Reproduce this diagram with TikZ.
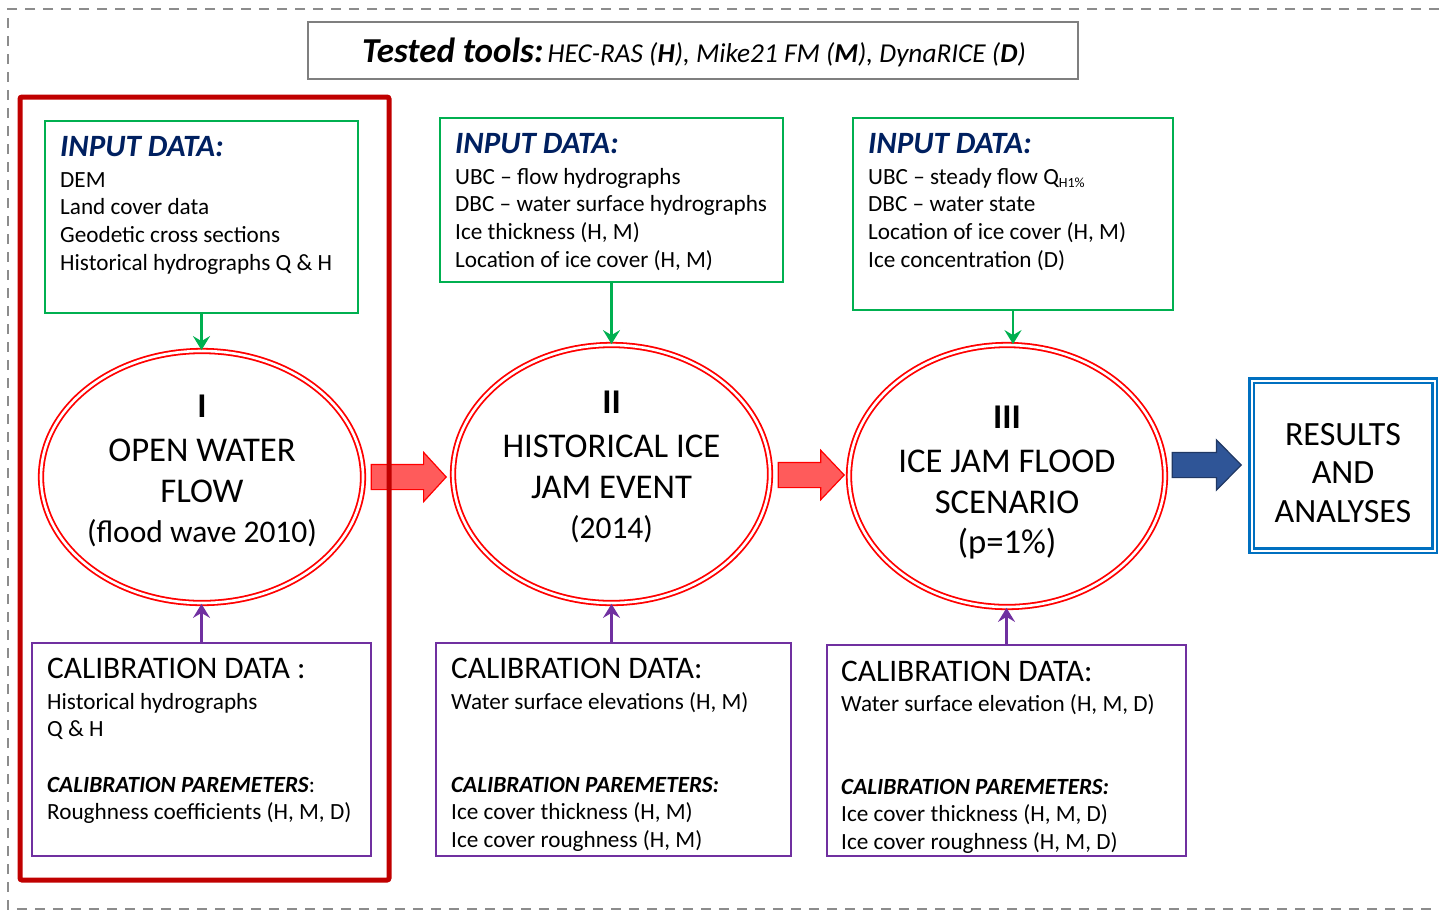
\documentclass[tikz,border=0pt]{standalone}
\usepackage{fontspec}
\setmainfont{Carlito}
\usetikzlibrary{arrows.meta,shapes.geometric,shapes.arrows}
\definecolor{cgreen}{HTML}{00B050}
\definecolor{cpurple}{HTML}{7030A0}
\definecolor{cnavy}{HTML}{002060}
\definecolor{cdarkred}{HTML}{C00000}
\definecolor{cred}{HTML}{FF0000}
\definecolor{carrowfill}{HTML}{FF5B5B}
\definecolor{cblue}{HTML}{0070C0}
\definecolor{cbluefill}{HTML}{2F5597}
\definecolor{cblueline}{HTML}{203864}
\definecolor{cgray}{HTML}{7F7F7F}
\definecolor{cdash}{HTML}{8C8C8C}
\begin{document}
\begin{tikzpicture}[x=1pt,y=-1pt,
  box/.style={rectangle, inner sep=0pt, line width=2pt},
  inbox/.style={box, draw=cgreen},
  calbox/.style={box, draw=cpurple},
  ell/.style={ellipse, draw=cred, line width=1.8pt, double=white, double distance=2.6pt, inner sep=0pt},
  bigarrow/.style={single arrow, inner sep=0pt, line width=1.2pt, anchor=tip},
  garrow/.style={draw=cgreen, line width=2.6pt, -{Stealth[length=14pt,width=17pt,inset=5pt]}},
  parrow/.style={draw=cpurple, line width=2.6pt, -{Stealth[length=14pt,width=17pt,inset=5pt]}},
  hdr/.style={anchor=base west, inner sep=0pt, text=cnavy, font=\fontsize{31}{31}\selectfont\bfseries\itshape},
  body/.style={anchor=base west, inner sep=0pt, align=left, font=\fontsize{23.2}{27.7}\selectfont},
  calhdr/.style={anchor=base west, inner sep=0pt, font=\fontsize{31.4}{31.4}\selectfont},
  etext/.style={anchor=base, inner sep=0pt, align=center, font=\fontsize{34.7}{40.5}\selectfont},
]
\useasboundingbox (0,0) rectangle (1439,911);
% outer dashed frame
\draw[cdash, line width=1.8pt, dash pattern=on 10pt off 8pt] (1439,9) -- (8,9) -- (8,909) -- (1439,909);

% tested tools
\node[draw=cgray, line width=2pt, minimum width=770pt, minimum height=57pt, inner sep=0pt] (tools) at (693,50.5) {};
\node[anchor=base, inner sep=0pt] (toolstxt) at (694,62) {{\fontsize{35}{35}\selectfont\bfseries\itshape Tested tools:}\hspace{4pt}{\fontsize{27.3}{27.3}\selectfont\itshape HEC-RAS (\textbf{H}), Mike21 FM (\textbf{M}), DynaRICE (\textbf{D})}};

% input boxes
\node[inbox, minimum width=313pt, minimum height=192pt] (in1) at (201.5,217) {};
\node[inbox, minimum width=343pt, minimum height=164pt] (in2) at (611.5,200) {};
\node[inbox, minimum width=320pt, minimum height=192pt] (in3) at (1013,214) {};
\node[hdr] (in1h) at (60,156) {INPUT DATA:};
\node[body] (in1b) at (60,270.1) {DEM\\Land cover data\\Geodetic cross sections\\Historical hydrographs Q \& H};
\node[hdr] (in2h) at (455,153) {INPUT DATA:};
\node[body] (in2b) at (455,267.1) {UBC -- flow hydrographs\\DBC -- water surface hydrographs\\Ice thickness (H, M)\\Location of ice cover (H, M)};
\node[hdr] (in3h) at (868,153) {INPUT DATA:};
\node[body] (in3b) at (868,267.1) {UBC -- steady flow Q\raisebox{-3.5pt}{\fontsize{14}{14}\selectfont H1\%}\\DBC -- water state\\Location of ice cover (H, M)\\Ice concentration (D)};

% ellipses
\node[ell, minimum width=322pt, minimum height=252pt] (e1) at (202,477) {};
\node[ell, minimum width=317pt, minimum height=258pt] (e2) at (611.5,474) {};
\node[ell, minimum width=316pt, minimum height=262pt] (e3) at (1007,476) {};
\node[etext] (e1t) at (202,542.5) {\textbf{I}\\[4pt]OPEN WATER\\FLOW\\{\fontsize{31.5}{31.5}\selectfont (flood wave 2010)}};
\node[etext] (e2t) at (611.5,538.5) {\textbf{II}\\[4pt]HISTORICAL ICE\\JAM EVENT\\{\fontsize{31.5}{31.5}\selectfont (2014)}};
\node[etext] (e3t) at (1007,553.5) {\textbf{III}\\[4pt]ICE JAM FLOOD\\SCENARIO\\(p=1\%)};

% results
\node[draw=cblue, line width=2.5pt, double=white, double distance=2pt, minimum width=183pt, minimum height=170pt, inner sep=0pt] (res) at (1343,465.5) {};
\node[anchor=base, inner sep=0pt, align=center, font=\fontsize{34}{38.5}\selectfont] (rest) at (1343,522) {RESULTS\\AND\\ANALYSES};

% calibration boxes
\node[calbox, minimum width=339pt, minimum height=213pt] (c1) at (201.5,749.5) {};
\node[calbox, minimum width=355pt, minimum height=213pt] (c2) at (613.5,749.5) {};
\node[calbox, minimum width=359pt, minimum height=211pt] (c3) at (1006.5,750.5) {};
\node[calhdr] (c1h) at (47,678) {CALIBRATION DATA :};
\node[body] (c1b) at (47,819.8) {Historical hydrographs\\Q \& H\\[27.7pt]\textbf{\textit{CALIBRATION PAREMETERS}}:\\Roughness coefficients (H, M, D)};
\node[calhdr] (c2h) at (451,678) {CALIBRATION DATA:};
\node[body] (c2b) at (451,847.5) {Water surface elevations (H, M)\\[55.4pt]\textbf{\textit{CALIBRATION PAREMETERS:}}\\Ice cover thickness (H, M)\\Ice cover roughness (H, M)};
\node[calhdr] (c3h) at (841,681) {CALIBRATION DATA:};
\node[body] (c3b) at (841,849.5) {Water surface elevation (H, M, D)\\[55.4pt]\textbf{\textit{CALIBRATION PAREMETERS:}}\\Ice cover thickness (H, M, D)\\Ice cover roughness (H, M, D)};

% connectors
\draw[garrow] (in1.south) -- (in1.south |- e1.north);
\draw[garrow] (in2.south) -- (in2.south |- e2.north);
\draw[garrow] (in3.south) -- (in3.south |- e3.north);
\draw[parrow] (c1.north) -- (c1.north |- e1.south);
\draw[parrow] (c2.north -| e2.south) -- (e2.south);
\draw[parrow] (c3.north) -- (c3.north |- e3.south);

% big arrows
\node[bigarrow, draw=cred, fill=carrowfill, minimum height=75pt, single arrow head extend=12pt, single arrow tip angle=95] (a1) at (447,477) {\rule{0pt}{24pt}};
\node[bigarrow, draw=cred, fill=carrowfill, minimum height=66pt, single arrow head extend=12pt, single arrow tip angle=93] (a2) at (845,475) {\rule{0pt}{24pt}};
\node[bigarrow, draw=cblueline, fill=cbluefill, minimum height=69pt, single arrow head extend=12.5pt, single arrow tip angle=91] (a3) at (1242,465) {\rule{0pt}{24pt}};

% red frame
\node[draw=cdarkred, line width=5pt, rounded corners=2pt, minimum width=369pt, minimum height=783pt, inner sep=0pt] (frame) at (204.5,488.5) {};
\end{tikzpicture}
\end{document}
